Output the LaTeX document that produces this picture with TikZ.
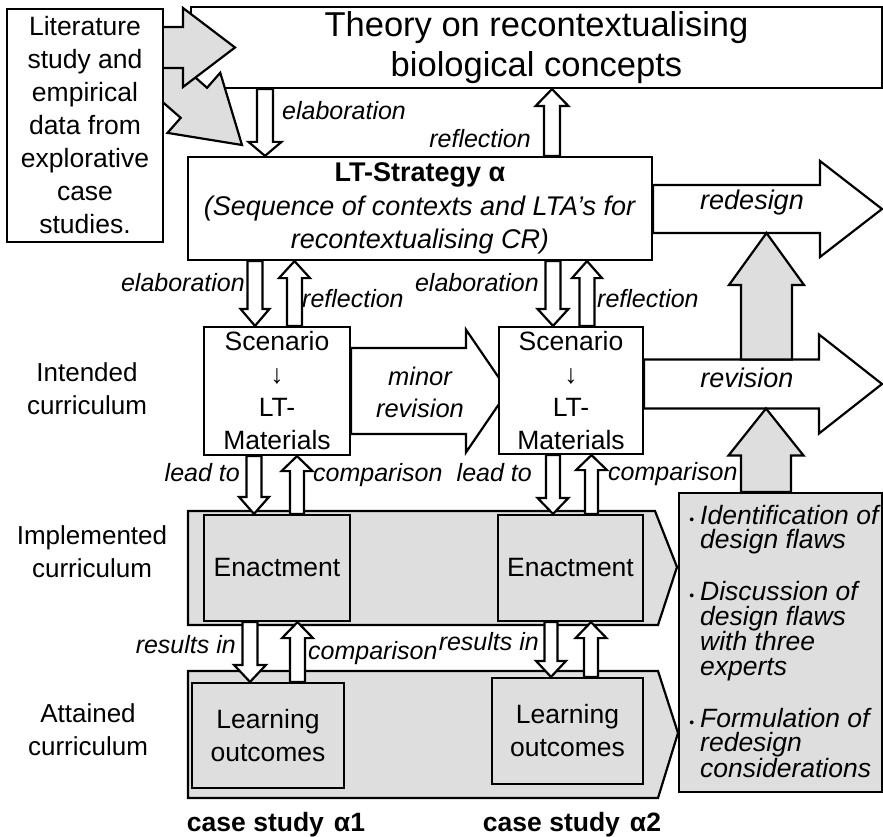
\documentclass[tikz,border=0pt]{standalone}
\usepackage{fontspec}
\setmainfont{Liberation Sans}
\usetikzlibrary{calc}
\pgfdeclarelayer{back}
\pgfdeclarelayer{front}
\pgfsetlayers{back,main,front}
\definecolor{panelgrey}{RGB}{222,222,222}
\newcommand\fsz[2]{\fontsize{#1}{#2}\selectfont}
% block arrow: style, tail, tip, half shaft width, half head width, head length
\newcommand\blockarrow[6]{%
  \path (#2) coordinate (ba-s) (#3) coordinate (ba-e);
  \path ($(ba-e)!#6!(ba-s)$) coordinate (ba-h);
  \draw[#1] ($(ba-s)!#4!90:(ba-e)$) -- ($(ba-h)!#4!-90:(ba-s)$)
    -- ($(ba-h)!#5!-90:(ba-s)$) -- (ba-e) -- ($(ba-h)!#5!90:(ba-s)$)
    -- ($(ba-h)!#4!90:(ba-s)$) -- ($(ba-s)!#4!-90:(ba-e)$) -- cycle;
}
\tikzset{
  outline/.style={draw=black, line width=2.2pt},
  box/.style={outline, fill=white, inner sep=0pt, align=center, font=\fsz{26.5}{33}},
  greybox/.style={box, fill=panelgrey},
  band/.style={outline, fill=panelgrey, line join=miter},
  hollow/.style={outline, fill=white, line join=miter},
  solidgrey/.style={outline, fill=panelgrey, line join=miter},
  lbl/.style={inner sep=0pt, font=\itshape\fsz{25}{30}},
  rowlbl/.style={inner sep=0pt, align=center, font=\fsz{26}{33}},
  caselbl/.style={inner sep=0pt, font=\bfseries\fsz{26.5}{30}},
}
\begin{document}
\begin{tikzpicture}[x=1pt, y=-1pt]
\useasboundingbox (0,0) rectangle (883,837);

% ---- top: theory, literature, strategy ----
\node[box, minimum width=691pt, minimum height=81pt, font=\fsz{34.5}{40}] (theory) at (536.5,47.5)
  {Theory on recontextualising\\biological concepts};
\node[box, minimum width=464pt, minimum height=103pt, font=\fsz{27}{33.5}] (lt) at (420,208.5)
  {\textbf{LT-Strategy α}\\\textit{(Sequence of contexts and LTA’s for}\\\textit{recontextualising CR)}};

% grey input arrows from the literature box
\coordinate (g2-tail) at (140,55.6);
\coordinate (g2-tip) at (242,145);
\coordinate (g1-tail) at (150,47.5);
\coordinate (g1-tip) at (235,47.5);
\blockarrow{solidgrey}{g2-tail}{g2-tip}{20pt}{40pt}{64pt}
\blockarrow{solidgrey}{g1-tail}{g1-tip}{20.5pt}{39.5pt}{52pt}

\begin{pgfonlayer}{front}
\node[box, minimum width=156pt, minimum height=233pt] (lit) at (85,125.5)
  {Literature\\study and\\empirical\\data from\\explorative\\case\\studies.};
\end{pgfonlayer}

% ---- intended curriculum ----
\node[box, inner ysep=-6pt, minimum width=146pt, minimum height=128pt] (sc1) at (277,391)
  {Scenario\\↓\\LT-\\Materials};
\node[box, inner ysep=-6pt, minimum width=144pt, minimum height=127pt] (sc2) at (571,390.5)
  {Scenario\\↓\\LT-\\Materials};

\begin{pgfonlayer}{back}
\blockarrow{hollow}{sc1.east}{$(sc1.east -| sc2.west)+(10,0)$}{43pt}{61.5pt}{42pt}
\end{pgfonlayer}

% ---- implemented and attained curriculum bands ----
\draw[band] (188,511) -- (655,511) -- (677,567) -- (658,625) -- (188,625) -- cycle;
\draw[band] (188,671) -- (658,671) -- (678,733) -- (658,798) -- (188,798) -- cycle;

\node[greybox, minimum width=146pt, minimum height=106pt] (en1) at (277,568) {Enactment};
\node[greybox, minimum width=145pt, minimum height=106pt] (en2) at (570.5,568) {Enactment};
\node[greybox, minimum width=152pt, minimum height=105pt] (lo1) at (268,735.5) {Learning\\outcomes};
\node[greybox, minimum width=151pt, minimum height=106pt] (lo2) at (567.5,731) {Learning\\outcomes};

% ---- evaluation panel ----
\node[greybox, minimum width=203pt, minimum height=299pt] (flaws) at (780.5,642.5) {};
\node[anchor=north west, align=left, inner sep=0pt, font=\itshape\fsz{26.5}{24.5}] (flawtext) at (700,505)
  {\llap{\upshape\fsz{14}{14}\textbullet\hspace{6pt}}Identification of\\design flaws\\[26pt]%
   \llap{\upshape\fsz{14}{14}\textbullet\hspace{6pt}}Discussion of\\design flaws\\with three\\experts\\[26pt]%
   \llap{\upshape\fsz{14}{14}\textbullet\hspace{6pt}}Formulation of\\redesign\\considerations};

% ---- hollow connectors ----
\blockarrow{hollow}{265,0 |- theory.south}{265,0 |- lt.north}{8pt}{16.5pt}{14pt}
\blockarrow{hollow}{552,0 |- lt.north}{552,0 |- theory.south}{8pt}{16.5pt}{17pt}
\blockarrow{hollow}{255,0 |- lt.south}{255,0 |- sc1.north}{7.5pt}{14.5pt}{17pt}
\blockarrow{hollow}{294.5,0 |- sc1.north}{294.5,0 |- lt.south}{7.5pt}{15.5pt}{17pt}
\blockarrow{hollow}{553,0 |- lt.south}{553,0 |- sc2.north}{7.5pt}{15.5pt}{17pt}
\blockarrow{hollow}{587,0 |- sc2.north}{587,0 |- lt.south}{7.5pt}{15pt}{17pt}
\blockarrow{hollow}{254,0 |- sc1.south}{254,0 |- en1.north}{7.5pt}{15pt}{17pt}
\blockarrow{hollow}{297,0 |- en1.north}{297,0 |- sc1.south}{7pt}{15.5pt}{15pt}
\blockarrow{hollow}{553,0 |- sc2.south}{553,0 |- en2.north}{7pt}{15.5pt}{16pt}
\blockarrow{hollow}{591.5,0 |- en2.north}{591.5,0 |- sc2.south}{6.5pt}{15.5pt}{15pt}
\blockarrow{hollow}{250,0 |- en1.south}{250,0 |- lo1.north}{7.5pt}{16pt}{17pt}
\blockarrow{hollow}{297.5,0 |- lo1.north}{297.5,0 |- en1.south}{7.5pt}{15.5pt}{16pt}
\blockarrow{hollow}{551,0 |- en2.south}{551,0 |- lo2.north}{6.5pt}{15pt}{16pt}
\blockarrow{hollow}{591,0 |- lo2.north}{591,0 |- en2.south}{7pt}{15.5pt}{16pt}

% ---- redesign and revision ----
\coordinate (redesign-tip) at (882,209);
\coordinate (revision-tip) at (882,384);
\blockarrow{hollow}{lt.east |- redesign-tip}{redesign-tip}{24pt}{48pt}{62pt}
\blockarrow{hollow}{sc2.east |- revision-tip}{revision-tip}{24.5pt}{49.5pt}{63pt}
\coordinate (up1-foot) at (766.5,359.5);
\coordinate (up1-tip) at (766.5,233);
\coordinate (up2-tip) at (766,408.5);
\blockarrow{solidgrey}{up1-foot}{up1-tip}{25.5pt}{37.5pt}{52pt}
\blockarrow{solidgrey}{766,0 |- flaws.north}{up2-tip}{25pt}{37.5pt}{47pt}

% ---- connector labels ----
\node[lbl, anchor=west] (t-elab0) at (282,111) {elaboration};
\node[lbl, anchor=east] (t-refl0) at (531,139) {reflection};
\node[lbl, anchor=east] (t-elab1) at (245,283) {elaboration};
\node[lbl, anchor=west] (t-refl1) at (302,299) {reflection};
\node[lbl, anchor=east] (t-elab2) at (539,283) {elaboration};
\node[lbl, anchor=west] (t-refl2) at (597,299) {reflection};
\node[lbl, anchor=east] (t-lead1) at (240,473) {lead to};
\node[lbl, anchor=west] (t-comp1) at (313,475) {comparison};
\node[lbl, anchor=east] (t-lead2) at (532,473) {lead to};
\node[lbl, anchor=west] (t-comp2) at (608,474) {comparison};
\node[lbl, anchor=east] (t-res1) at (236,645) {results in};
\node[lbl, anchor=west] (t-comp3) at (308,653) {comparison};
\node[lbl, anchor=east] (t-res2) at (539,642) {results in};
\node[lbl, align=center, font=\itshape\fsz{25.5}{32}] (t-minor) at (420,392) {minor\\revision};
\node[lbl, font=\itshape\fsz{27}{30}] (t-redesign) at (752,203) {redesign};
\node[lbl, font=\itshape\fsz{27}{30}] (t-revision) at (747,378) {revision};

% ---- row and column labels ----
\node[rowlbl] (r-int) at (87,388.5) {Intended\\curriculum};
\node[rowlbl] (r-imp) at (92,551.5) {Implemented\\curriculum};
\node[rowlbl] (r-att) at (88,729.5) {Attained\\curriculum};
\node[caselbl] (c1) at (276,825) {case study\hspace{10pt}α1};
\node[caselbl] (c2) at (572,825) {case study\hspace{10pt}α2};
\end{tikzpicture}
\end{document}
